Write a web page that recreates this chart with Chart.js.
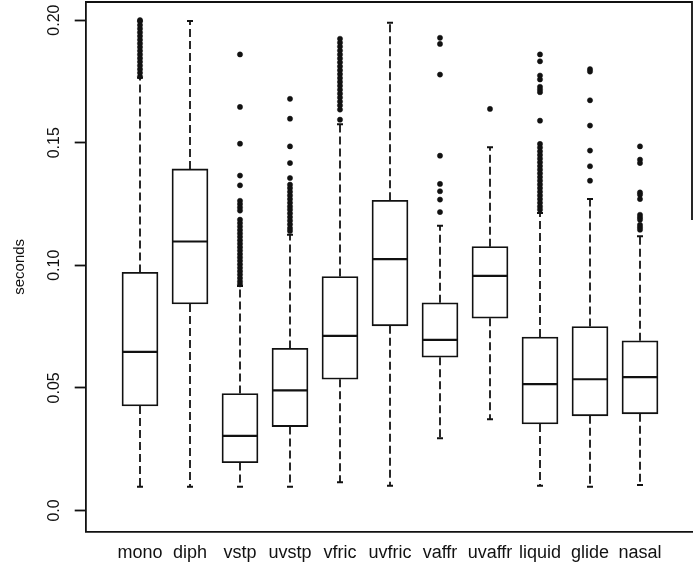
<!DOCTYPE html>
<html>
<head>
<meta charset="utf-8">
<script src="https://cdn.jsdelivr.net/npm/chart.js@4.4.1/dist/chart.umd.min.js"></script>
<style>
  html, body { margin: 0; padding: 0; background: #fff; }
  #wrap { position: relative; width: 693px; height: 571px; }
</style>
</head>
<body>
<div id="wrap"><canvas id="c" width="693" height="571"></canvas></div>
<script>
// ---- data ----
const categories = ['mono', 'diph', 'vstp', 'uvstp', 'vfric', 'uvfric', 'vaffr', 'uvaffr', 'liquid', 'glide', 'nasal'];
const whiskerLow  = [0.0097, 0.0097, 0.0097, 0.0097, 0.0115, 0.0101, 0.0294, 0.0372, 0.0101, 0.0097, 0.0104];
const q1          = [0.0426, 0.0842, 0.0195, 0.0342, 0.0535, 0.0753, 0.0625, 0.0784, 0.0353, 0.0386, 0.0394];
const medians     = [0.0647, 0.1097, 0.0304, 0.0490, 0.0712, 0.1025, 0.0696, 0.0957, 0.0515, 0.0535, 0.0544];
const q3          = [0.0971, 0.1393, 0.0477, 0.0661, 0.0954, 0.1265, 0.0847, 0.1076, 0.0707, 0.0750, 0.0692];
const whiskerHigh = [0.1765, 0.1996, 0.0915, 0.1125, 0.1575, 0.1989, 0.1161, 0.1481, 0.1213, 0.1270, 0.1118];

const outMono   = [0.1770, 0.1785, 0.1800, 0.1815, 0.1830, 0.1845, 0.1860, 0.1875, 0.1890, 0.1905, 0.1920, 0.1935, 0.1950, 0.1965, 0.1980, 0.1995, 0.2000];
const outDiph   = [];
const outVstp   = [0.1860, 0.1646, 0.1496, 0.1366, 0.1326, 0.1263, 0.1250, 0.1236, 0.1223, 0.1186, 0.1172, 0.1158, 0.1144, 0.1130, 0.1116, 0.1102, 0.1088, 0.1074, 0.1060, 0.1046, 0.1032, 0.1018, 0.1004, 0.0990, 0.0976, 0.0962, 0.0948, 0.0934, 0.0922];
const outUvstp  = [0.1679, 0.1598, 0.1485, 0.1417, 0.1356, 0.1329, 0.1315, 0.1300, 0.1285, 0.1270, 0.1255, 0.1240, 0.1227, 0.1212, 0.1197, 0.1182, 0.1167, 0.1152, 0.1140];
const outVfric  = [0.1924, 0.1908, 0.1892, 0.1876, 0.1860, 0.1844, 0.1828, 0.1812, 0.1796, 0.1780, 0.1764, 0.1748, 0.1732, 0.1716, 0.1700, 0.1684, 0.1668, 0.1652, 0.1635, 0.1594];
const outUvfric = [];
const outVaffr  = [0.1928, 0.1903, 0.1778, 0.1447, 0.1332, 0.1302, 0.1268, 0.1217];
const outUvaffr = [0.1638];
const outLiquid = [0.1860, 0.1832, 0.1774, 0.1758, 0.1728, 0.1717, 0.1706, 0.1590, 0.1495, 0.1480, 0.1465, 0.1450, 0.1435, 0.1420, 0.1405, 0.1390, 0.1375, 0.1360, 0.1345, 0.1330, 0.1315, 0.1300, 0.1285, 0.1270, 0.1255, 0.1240, 0.1227];
const outGlide  = [0.1800, 0.1790, 0.1673, 0.1570, 0.1468, 0.1404, 0.1345];
const outNasal  = [0.1485, 0.1431, 0.1417, 0.1297, 0.1288, 0.1270, 0.1206, 0.1196, 0.1186, 0.1165, 0.1155, 0.1145];
const outliers  = [outMono, outDiph, outVstp, outUvstp, outVfric, outUvfric, outVaffr, outUvaffr, outLiquid, outGlide, outNasal];

const yTickValues = [0.0, 0.05, 0.10, 0.15, 0.20];
const yTickLabels = ['0.0', '0.05', '0.10', '0.15', '0.20'];
const yTitle = 'seconds';

// ---- derived datasets ----
const INK = '#111';
const boxData = categories.map((c, i) => ({ x: i + 1, y: [q1[i], q3[i]] }));
const medianData = categories.map((c, i) => ({ x: i + 1, y: medians[i] }));
const whiskerData = [];
categories.forEach((c, i) => {
  whiskerData.push({ x: i + 1, y: q3[i] }, { x: i + 1, y: whiskerHigh[i] }, { x: i + 1, y: null });
  whiskerData.push({ x: i + 1, y: q1[i] }, { x: i + 1, y: whiskerLow[i] }, { x: i + 1, y: null });
});
const capData = [];
categories.forEach((c, i) => {
  capData.push({ x: i + 1, y: whiskerHigh[i] }, { x: i + 1, y: whiskerLow[i] });
});
const outlierData = [];
outliers.forEach((arr, i) => arr.forEach(v => outlierData.push({ x: i + 1, y: v })));

// ---- plugins ----
const framePlugin = {
  id: 'frame',
  afterDraw(chart) {
    const { ctx, chartArea: a } = chart;
    ctx.save();
    ctx.strokeStyle = INK;
    ctx.lineWidth = 1.8;
    ctx.beginPath();
    ctx.moveTo(a.left, a.top);
    ctx.lineTo(a.right, a.top);
    ctx.lineTo(a.right, 220);
    ctx.stroke();
    ctx.restore();
  }
};
const yLabelPlugin = {
  id: 'yLabels',
  afterDraw(chart) {
    const { ctx } = chart;
    const ys = chart.scales.y;
    ctx.save();
    ctx.fillStyle = INK;
    ctx.font = '16px "Liberation Sans", Arial, sans-serif';
    ctx.textAlign = 'center';
    ctx.textBaseline = 'middle';
    yTickValues.forEach((v, k) => {
      const py = ys.getPixelForValue(v);
      ctx.save();
      ctx.translate(55, py);
      ctx.rotate(-Math.PI / 2);
      ctx.fillText(yTickLabels[k], 0, 0);
      ctx.restore();
    });
    ctx.font = '15px "Liberation Sans", Arial, sans-serif';
    ctx.save();
    ctx.translate(20, (chart.chartArea.top + chart.chartArea.bottom) / 2);
    ctx.rotate(-Math.PI / 2);
    ctx.fillText(yTitle, 0, 0);
    ctx.restore();
    ctx.restore();
  }
};

new Chart(document.getElementById('c'), {
  type: 'bar',
  data: {
    datasets: [
      {
        type: 'line', label: 'whiskers', data: whiskerData,
        borderColor: INK, borderWidth: 1.8, borderDash: [8, 4],
        pointRadius: 0, spanGaps: false, fill: false, order: 3
      },
      {
        type: 'bar', label: 'boxes', data: boxData,
        backgroundColor: '#fff', borderColor: INK, borderWidth: 1.8,
        borderSkipped: false, barThickness: 36, order: 2
      },
      {
        type: 'scatter', label: 'medians', data: medianData,
        pointStyle: 'line', pointRadius: 17.5, pointBorderWidth: 2.2,
        pointBorderColor: INK, borderColor: INK, showLine: false, order: 1
      },
      {
        type: 'scatter', label: 'caps', data: capData,
        pointStyle: 'line', pointRadius: 3, pointBorderWidth: 2,
        pointBorderColor: INK, borderColor: INK, showLine: false, order: 1
      },
      {
        type: 'scatter', label: 'outliers', data: outlierData,
        pointStyle: 'circle', pointRadius: 2.6, pointBorderWidth: 0.5,
        pointBackgroundColor: INK, pointBorderColor: INK, showLine: false, order: 0
      }
    ]
  },
  options: {
    responsive: false,
    animation: false,
    devicePixelRatio: 1,
    layout: { autoPadding: false, padding: { top: 2, right: 1, bottom: 0, left: 0 } },
    plugins: { legend: { display: false }, tooltip: { enabled: false } },
    scales: {
      x: {
        type: 'linear', min: -0.086, max: 12.04, offset: false,
        afterBuildTicks: s => { s.ticks = categories.map((c, i) => ({ value: i + 1 })); },
        afterFit: s => { s.height = 39.3; },
        grid: { display: true, drawOnChartArea: false, drawTicks: false },
        border: { display: true, color: INK, width: 1.8 },
        ticks: {
          callback: (v) => categories[v - 1] ?? '',
          autoSkip: false, maxRotation: 0, minRotation: 0,
          color: INK, padding: 11,
          font: { family: '"Liberation Sans", Arial, sans-serif', size: 18 }
        }
      },
      y: {
        type: 'linear', min: -0.00868, max: 0.2074,
        afterBuildTicks: s => { s.ticks = yTickValues.map(v => ({ value: v })); },
        afterFit: s => { s.width = 85.7; },
        grid: { display: true, drawOnChartArea: false, drawTicks: true, tickLength: 11, tickColor: INK, tickWidth: 1.8 },
        border: { display: true, color: INK, width: 1.8 },
        ticks: { display: false }
      }
    }
  },
  plugins: [framePlugin, yLabelPlugin]
});
</script>
</body>
</html>
